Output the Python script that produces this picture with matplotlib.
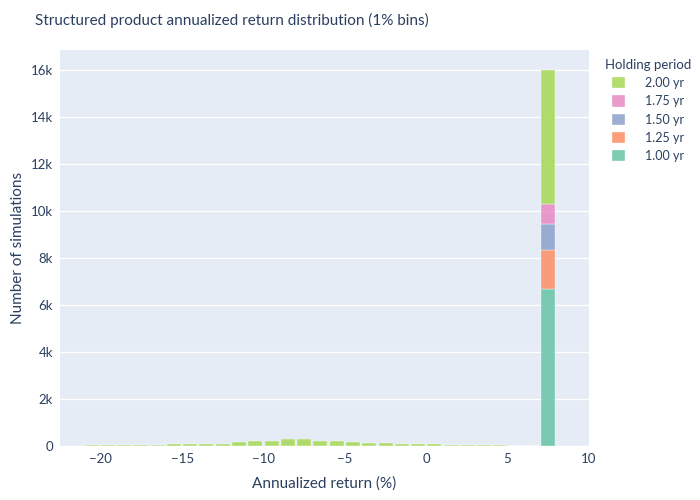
import numpy as np
import matplotlib
matplotlib.use("Agg")
import matplotlib.pyplot as plt
from matplotlib.ticker import FuncFormatter

# 1% bins, left edges
bin_left = np.arange(-21, 8)

# counts per holding period
n_200 = [30, 35, 45, 50, 60, 65, 75, 90, 100, 156, 199, 213, 298, 284,
         213, 213, 156, 142, 142, 100, 71, 85, 45, 30, 25, 22, 0, 0, 5715]
n_175 = [0] * 28 + [825]
n_150 = [0] * 28 + [1107]
n_125 = [0] * 28 + [1659]
n_100 = [0] * 28 + [6694]

periods = ["1.00 yr", "1.25 yr", "1.50 yr", "1.75 yr", "2.00 yr"]
series = [n_100, n_125, n_150, n_175, n_200]
colors = ["#66c2a5", "#fc8d62", "#8da0cb", "#e78ac3", "#a6d854"]

plt.rcParams['font.family'] = ['Lato', 'DejaVu Sans']
txt = "#2a3f5f"

fig = plt.figure(figsize=(7, 5), dpi=100)
ax = fig.add_axes([60/700, 54/500, 529/700, 396/500])
ax.set_facecolor("#e5ecf6")

bottom = np.zeros(len(bin_left))
handles = []
for lab, vals, c in zip(periods, series, colors):
    vals = np.array(vals, dtype=float)
    h = ax.bar(bin_left + 0.5, vals, width=0.86, bottom=bottom, color=c,
               alpha=0.85, edgecolor="white", linewidth=0.3, label=lab, zorder=3)
    bottom += vals
    handles.append(h)

ax.set_xlim(-22.5, 10)
ax.set_ylim(0, 16850)
ax.set_xticks([-20, -15, -10, -5, 0, 5, 10])
ax.set_yticks(np.arange(0, 16001, 2000))
ax.yaxis.set_major_formatter(FuncFormatter(lambda v, p: "0" if v == 0 else "%dk" % (v / 1000)))
ax.grid(axis="y", color="white", linewidth=1, zorder=0)
for s in ax.spines.values():
    s.set_visible(False)
ax.tick_params(length=0, labelsize=9.5, colors=txt, pad=5)

ax.set_xlabel("Annualized return (%)", fontsize=11, color=txt, labelpad=8)
ax.set_ylabel("Number of simulations", fontsize=11, color=txt, labelpad=4)
fig.text(35/700, 1 - 20/500, "Structured product annualized return distribution (1% bins)",
         fontsize=11, color=txt, va="center", ha="left")

leg = fig.legend(handles[::-1], periods[::-1], title="Holding period",
                 loc="upper left", bbox_to_anchor=(596/700, 1 - 50/500),
                 frameon=False, fontsize=9, title_fontsize=9.5, labelcolor=txt,
                 handlelength=1.0, handleheight=1.0, handletextpad=1.6,
                 labelspacing=0.5, borderpad=0.2)
leg.get_title().set_color(txt)

fig.savefig("out.png", dpi=100)
